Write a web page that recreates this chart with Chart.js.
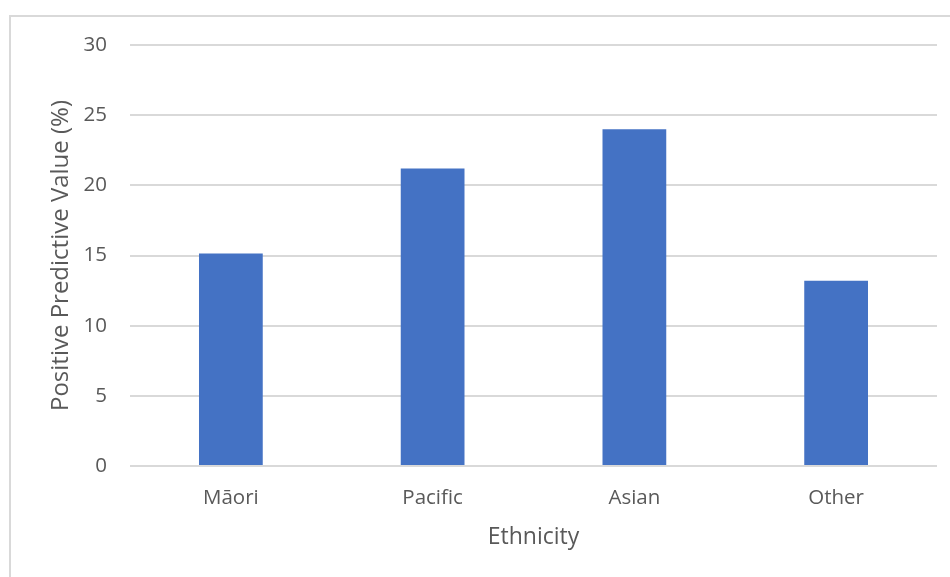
<!DOCTYPE html>
<html>

<head>
    <meta charset="utf-8">
    <title>Positive Predictive Value by Ethnicity</title>
    <script src="https://cdn.jsdelivr.net/npm/chart.js"></script>
    <style>
        html, body { margin: 0; padding: 0; background: #fff; overflow: hidden; }
        #wrap { width: 950px; height: 577px; }
    </style>
</head>

<body>
    <div id="wrap"><canvas id="myChart" width="950" height="577"></canvas></div>

    <script>
        const categories = ['Māori', 'Pacific', 'Asian', 'Other'];
        const ppvValues = [15.15, 21.2, 24.0, 13.2];
        const yTicks = [0, 5, 10, 15, 20, 25, 30];

        const textColor = '#595959';
        const gridColor = '#d9d9d9';
        const fontFamily = '"Open Sans", sans-serif';

        // light frame around the chart
        const framePlugin = {
            id: 'frame',
            beforeDraw(chart) {
                const ctx = chart.ctx;
                ctx.save();
                ctx.strokeStyle = '#d9d9d9';
                ctx.lineWidth = 2;
                ctx.strokeRect(10, 16, 1000, 1000);
                ctx.restore();
            }
        };

        const chart = new Chart('myChart', {
            type: 'bar',
            data: {
                labels: categories,
                datasets: [{
                    data: ppvValues,
                    backgroundColor: '#4472C4',
                    categoryPercentage: 1,
                    barPercentage: 0.316
                }]
            },
            options: {
                responsive: false,
                animation: false,
                layout: { padding: { top: 45, right: 13, left: 0, bottom: 0 } },
                plugins: {
                    legend: { display: false },
                    tooltip: { enabled: false }
                },
                scales: {
                    x: {
                        grid: { display: false, drawTicks: false },
                        border: { display: false },
                        ticks: { color: textColor, font: { family: fontFamily, size: 20.5 }, padding: 20 },
                        title: {
                            display: true,
                            text: 'Ethnicity',
                            color: textColor,
                            font: { family: fontFamily, size: 23 },
                            padding: { bottom: 26 }
                        },
                        afterFit: s => { s.height = 111; }
                    },
                    y: {
                        min: yTicks[0],
                        max: yTicks[yTicks.length - 1],
                        afterBuildTicks: s => { s.ticks = yTicks.map(v => ({ value: v })); },
                        grid: { color: gridColor, lineWidth: 2, drawTicks: false },
                        border: { display: false },
                        ticks: { color: textColor, font: { family: fontFamily, size: 20.5 }, padding: 23 },
                        title: {
                            display: true,
                            text: 'Positive Predictive Value (%)',
                            color: textColor,
                            font: { family: fontFamily, size: 24 },
                            padding: { top: 47 }
                        },
                        afterFit: s => { s.width = 130; }
                    }
                }
            },
            plugins: [framePlugin]
        });
    </script>
</body>

</html>
